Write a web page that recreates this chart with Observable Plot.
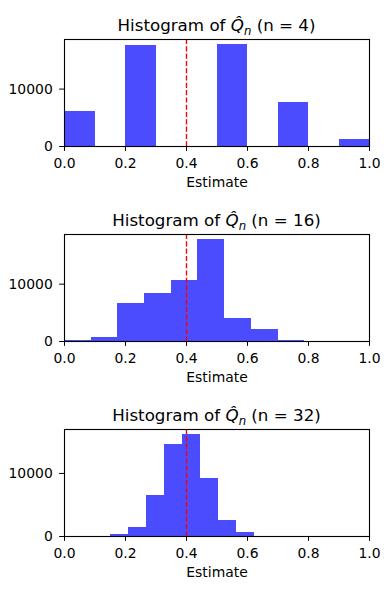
<!DOCTYPE html>
<html>
<head>
<meta charset="utf-8">
<script src="https://cdn.jsdelivr.net/npm/d3@7"></script>
<script src="https://cdn.jsdelivr.net/npm/@observablehq/plot@0.6"></script>
<style>
  body { margin: 0; background: #fff; font-family: "DejaVu Sans", sans-serif; }
  .panel { position: relative; width: 390px; height: 195px; }
  .title { position: absolute; left: 64px; width: 305px; top: 15px; height: 20px; line-height: 20px;
           text-align: center; font-size: 16.7px; color: #000; white-space: nowrap; }
  .title .sub { position: relative; top: 0.3em; font-size: 0.7em; font-style: italic; }
  svg { display: block; }
</style>
</head>
<body>
<div id="chart"></div>
<script>
// Panel titles (sample sizes)
const sampleSizes = [4, 16, 32];

// Bin edges
const edges4  = [0, 0.1, 0.2, 0.3, 0.4, 0.5, 0.6, 0.7, 0.8, 0.9, 1.0];
const edges16 = [0, 0.0875, 0.175, 0.2625, 0.35, 0.4375, 0.525, 0.6125, 0.7, 0.7875, 0.875];
const edges32 = [0.15, 0.209, 0.268, 0.327, 0.386, 0.445, 0.504, 0.563, 0.622, 0.681, 0.74];

// Counts per bin
const counts4  = [6100, 0, 17600, 0, 0, 17750, 0, 7650, 0, 1230];
const counts16 = [250, 630, 6630, 8370, 10640, 17780, 4010, 2150, 250, 10];
const counts32 = [260, 1470, 6470, 14530, 16160, 9160, 2580, 570, 0, 0];

// True value marker
const trueValue = 0.4;

// tick labels
const xTicks = [0, 0.2, 0.4, 0.6, 0.8, 1.0];
const yTicks = [0, 10000];

const panels = [
  {n: sampleSizes[0], edges: edges4, counts: counts4},
  {n: sampleSizes[1], edges: edges16, counts: counts16},
  {n: sampleSizes[2], edges: edges32, counts: counts32}
];

const root = document.getElementById("chart");
for (const p of panels) {
  const bins = p.counts.map((c, i) => ({x1: p.edges[i], x2: p.edges[i + 1], y: c}));
  const ymax = d3.max(p.counts) * 1.05;
  const div = document.createElement("div");
  div.className = "panel";
  const title = document.createElement("div");
  title.className = "title";
  title.innerHTML = `Histogram of <i>Q&#770;</i><span class="sub">n</span> (n = ${p.n})`;
  const svg = Plot.plot({
    width: 390,
    height: 195,
    marginTop: 39,
    marginBottom: 49,
    marginLeft: 64,
    marginRight: 21,
    style: {fontFamily: "DejaVu Sans, sans-serif", fontSize: "13.9px", color: "#000", background: "#fff"},
    x: {domain: [0, 1], ticks: xTicks, tickFormat: d3.format(".1f")},
    y: {domain: [0, ymax], ticks: yTicks, tickFormat: d => String(d)},
    marks: [
      Plot.rectY(bins, {x1: "x1", x2: "x2", y: "y", fill: "blue", fillOpacity: 0.7, inset: 0, shapeRendering: "crispEdges"}),
      Plot.ruleX([trueValue], {stroke: "red", strokeWidth: 1.39, strokeDasharray: "5.1,2.2"}),
      Plot.frame({stroke: "#000", strokeWidth: 1.11}),
      Plot.axisX({ticks: xTicks, tickFormat: d3.format(".1f"), tickSize: 4.86, tickPadding: 6.9, tickWidth: 1.11, fontSize: 13.9, label: null}),
      Plot.axisY({ticks: yTicks, tickSize: 4.86, tickPadding: 6.9, fontSize: 13.9, label: null, tickFormat: d => String(d)}),
      Plot.text(["Estimate"], {text: d => d, frameAnchor: "bottom", lineAnchor: "middle", dy: 36, fontSize: 13.9, fill: "#000"})
    ]
  });
  div.appendChild(svg);
  div.appendChild(title);
  root.appendChild(div);
}
</script>
</body>
</html>
